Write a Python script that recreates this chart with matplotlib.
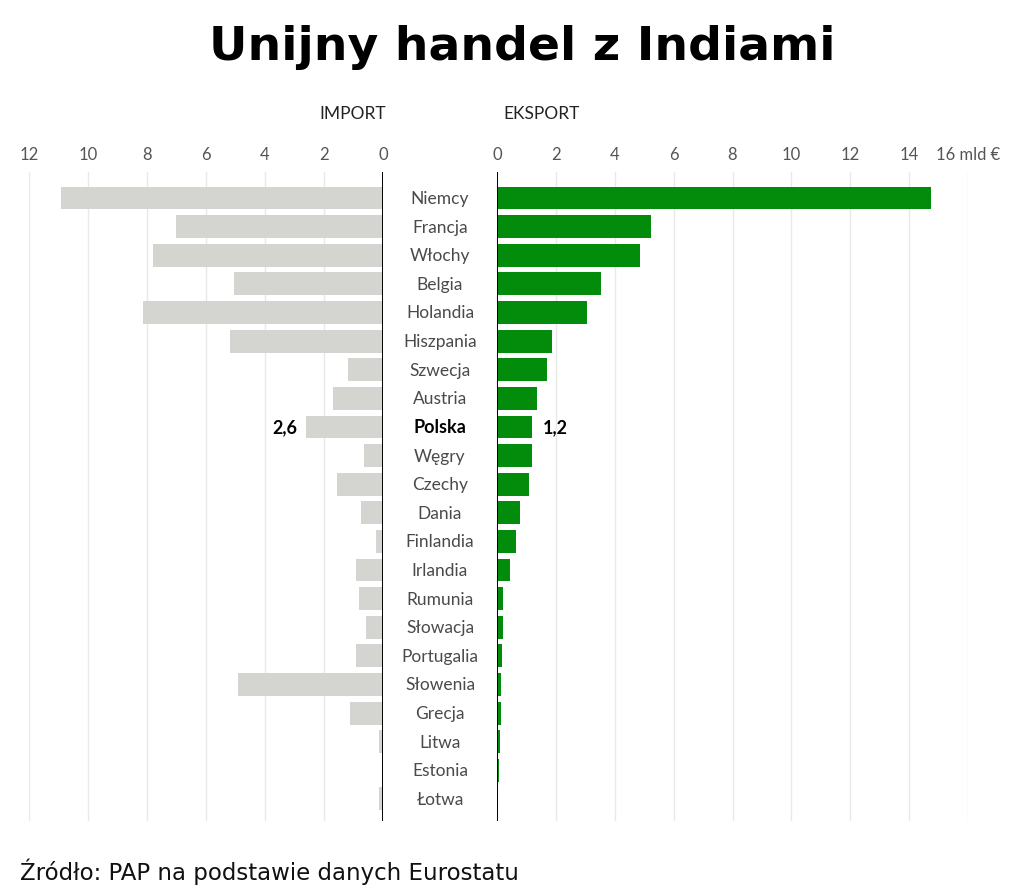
import matplotlib.pyplot as plt
from matplotlib.transforms import blended_transform_factory

# dane (mld EUR)
countries = ['Niemcy', 'Francja', 'Włochy', 'Belgia', 'Holandia', 'Hiszpania',
             'Szwecja', 'Austria', 'Polska', 'Węgry', 'Czechy', 'Dania',
             'Finlandia', 'Irlandia', 'Rumunia', 'Słowacja', 'Portugalia',
             'Słowenia', 'Grecja', 'Litwa', 'Estonia', 'Łotwa']
imports = [10.9, 7.0, 7.8, 5.05, 8.15, 5.2, 1.2, 1.7, 2.6, 0.65, 1.55, 0.75,
           0.25, 0.9, 0.8, 0.58, 0.9, 4.9, 1.12, 0.13, 0.0, 0.13]
exports = [14.73, 5.24, 4.86, 3.54, 3.06, 1.87, 1.7, 1.36, 1.2, 1.19, 1.09, 0.78,
           0.65, 0.44, 0.2, 0.2, 0.17, 0.13, 0.13, 0.1, 0.07, 0.03]
highlight = 'Polska'

imp_ticks = [0, 2, 4, 6, 8, 10, 12]
exp_ticks = [0, 2, 4, 6, 8, 10, 12, 14, 16]
exp_ticklabels = ['0', '2', '4', '6', '8', '10', '12', '14', '16 mld €']

GRAY = '#d4d4d0'
GREEN = '#038c0c'
GRID = '#e9e9e9'
TXT = '#4a4a4a'

plt.rcParams['font.family'] = ['Lato', 'DejaVu Sans']

fig = plt.figure(figsize=(10.18, 8.95), dpi=100)
fig.patch.set_facecolor('white')

ax_l = fig.add_axes([0.0285, 0.0816, 0.3477, 0.7251])
ax_r = fig.add_axes([0.4882, 0.0816, 0.4627, 0.7251])

y = list(range(len(countries)))

ax_l.barh(y, imports, height=0.8, color=GRAY, zorder=2)
ax_r.barh(y, exports, height=0.8, color=GREEN, zorder=2)

ax_l.set_xlim(12, 0)
ax_r.set_xlim(0, 16)
for ax in (ax_l, ax_r):
    ax.set_ylim(len(countries) - 1 + 0.77, -0.91)
    for s in ax.spines.values():
        s.set_visible(False)
    ax.xaxis.tick_top()
    ax.tick_params(axis='x', length=0, pad=7, labelsize=12, labelcolor='#555555')
    ax.set_yticks([])
    ax.grid(axis='x', color=GRID, linewidth=1, zorder=0)
    ax.axvline(0, color='black', linewidth=1.4, zorder=3)

ax_l.set_xticks(imp_ticks)
ax_l.set_xticklabels([str(t) for t in imp_ticks])
ax_r.set_xticks(exp_ticks)
ax_r.set_xticklabels(exp_ticklabels)

# nazwy krajow w srodku
trans = blended_transform_factory(fig.transFigure, ax_l.transData)
for i, name in enumerate(countries):
    if name == highlight:
        ax_l.text(0.4322, i, name, transform=trans, ha='center', va='center',
                  fontsize=13, fontweight='bold', color='black')
        ax_l.text(imports[i] + 0.3, i, f'{imports[i]:.1f}'.replace('.', ','),
                  ha='right', va='center', fontsize=13, fontweight='bold', color='black')
        ax_r.text(exports[i] + 0.35, i, f'{exports[i]:.1f}'.replace('.', ','),
                  ha='left', va='center', fontsize=13, fontweight='bold', color='black')
    else:
        ax_l.text(0.4322, i, name, transform=trans, ha='center', va='center',
                  fontsize=12.5, color=TXT)

fig.text(0.346, 0.873, 'IMPORT', ha='center', va='center', fontsize=12.5, color='#222222')
fig.text(0.532, 0.873, 'EKSPORT', ha='center', va='center', fontsize=12.5, color='#222222')

fig.text(0.513, 0.947, 'Unijny handel z Indiami', ha='center', va='center',
         fontsize=34, fontweight='bold', color='black', family='DejaVu Sans')

fig.text(0.02, 0.026, 'Źródło: PAP na podstawie danych Eurostatu', ha='left', va='center',
         fontsize=16.5, color='#111111', family='DejaVu Sans')

fig.savefig('out.png', dpi=100, facecolor='white')
